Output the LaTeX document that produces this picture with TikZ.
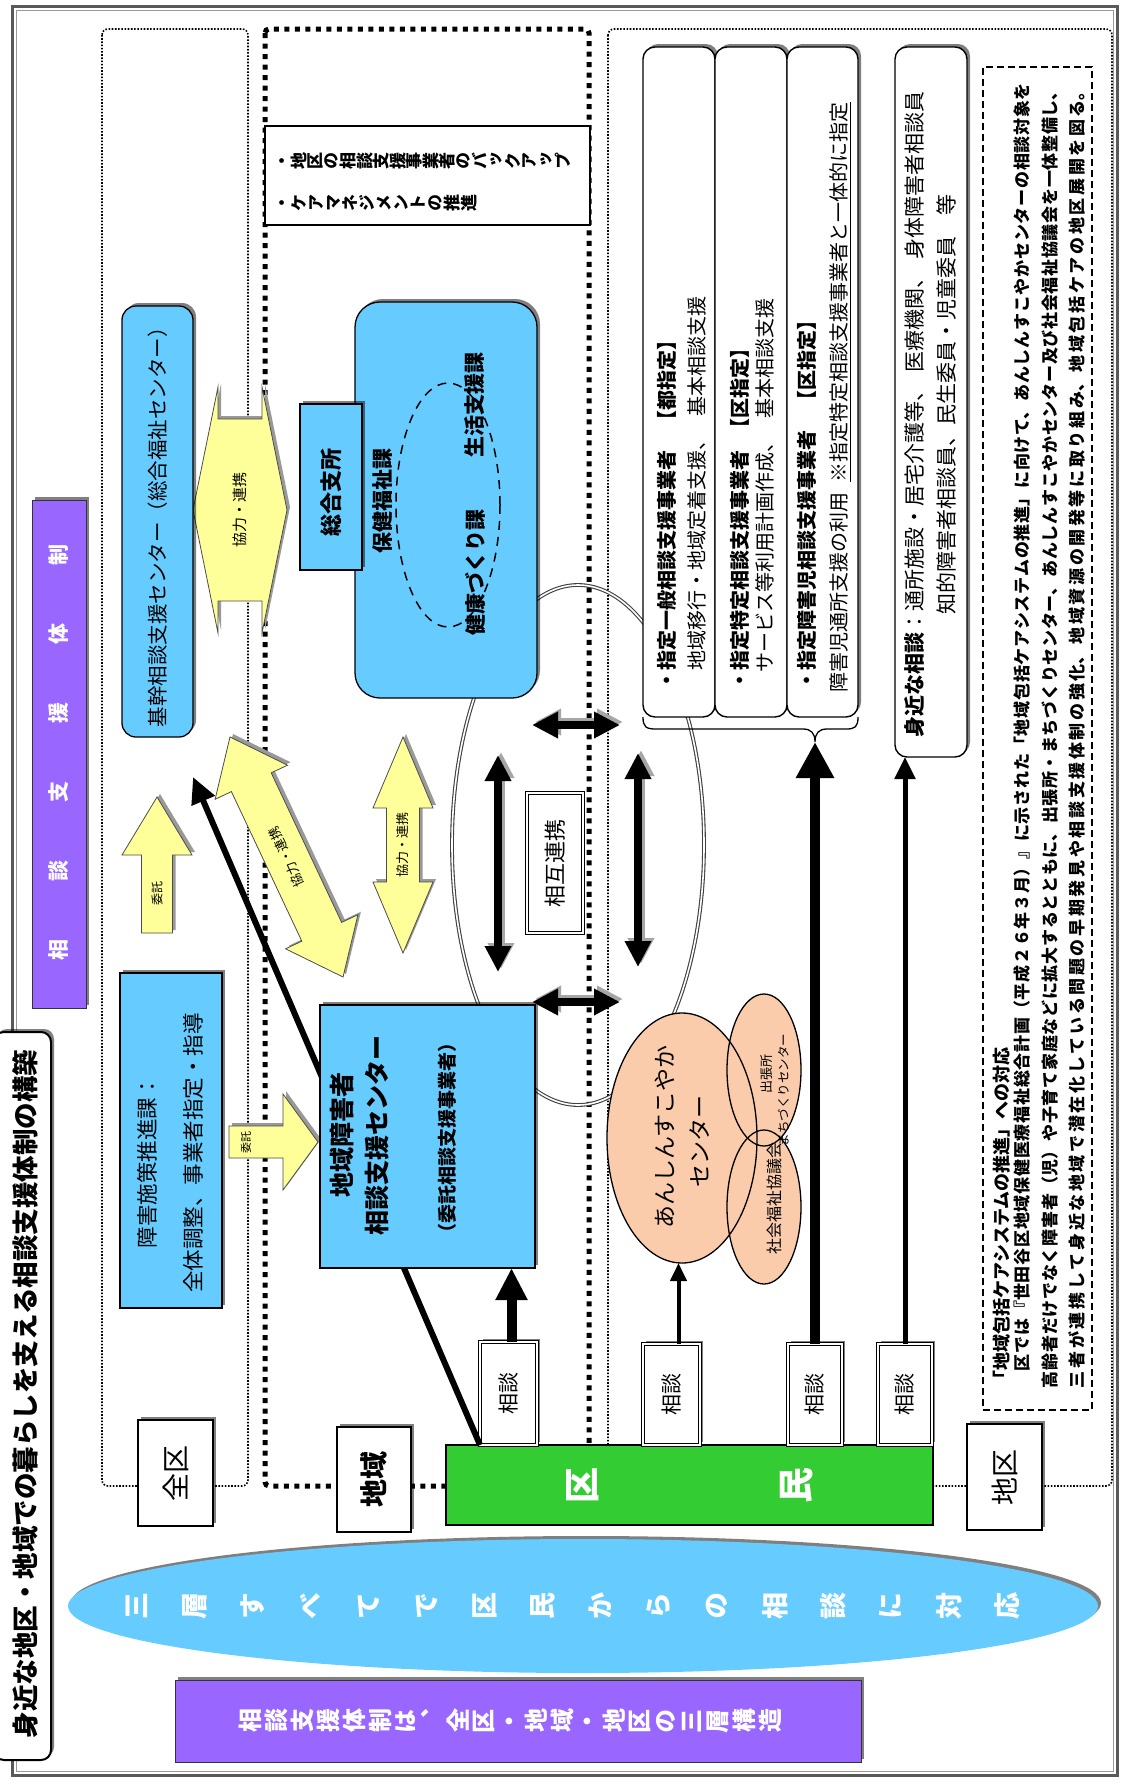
\documentclass[tikz,border=0pt]{standalone}
\usepackage{graphicx}
\usepackage{fontspec}
\setmainfont{Noto Sans CJK JP}
\newfontfamily\vjp{Noto Sans CJK JP}[RawFeature=+vert]
\usetikzlibrary{shapes.geometric,arrows.meta,shadows}
\XeTeXlinebreaklocale "ja"
\XeTeXlinebreakskip=0pt plus 6pt

\definecolor{boxblue}{RGB}{102,204,255}
\definecolor{arryel}{RGB}{255,255,153}
\definecolor{peach}{RGB}{250,204,172}
\definecolor{kugreen}{RGB}{51,204,51}
\definecolor{violet2}{RGB}{153,102,255}
\definecolor{skyband}{RGB}{102,204,255}

\newcommand\fz[2]{\fontsize{#1}{#2}\selectfont}
% vertical (tategaki) text: every character turned a quarter and set on a fixed step
\newlength\vtstep
\makeatletter
\def\vt@end{\vt@end}
\newcommand\vtxt[1]{\vt@loop#1\vt@end}
\def\vt@loop#1{\ifx#1\vt@end\else\vt@char{#1}\expandafter\vt@loop\fi}
\newcommand\vt@char[1]{\makebox[\vtstep]{\rotatebox[origin=c]{90}{\makebox[1em]{\vphantom{国}#1}}}}
\makeatother
% box node from two corners: name, style, x1, y1, x2, y2
\newcommand\pbox[6]{%
  \pgfmathsetmacro\pbw{#5-#3}\pgfmathsetmacro\pbh{#6-#4}%
  \pgfmathsetmacro\pbx{(#3+#5)/2}\pgfmathsetmacro\pby{(#4+#6)/2}%
  \node[#2,minimum width=\pbw pt,minimum height=\pbh pt] (#1) at (\pbx,\pby) {};}
% text turned to read upwards: name, style, x, y, text
\newcommand\rt[5]{\node[rotate=90,#2] (#1) at (#3,#4) {#5};}

% yellow block arrows
\def\hexArrow{(193,510) -- (218,387) -- (218,419) -- (262,419) -- (262,387) -- (287,510) -- (262,633) -- (262,601) -- (218,601) -- (218,633) -- cycle}
\def\vertArrow{(403,737) -- (433,808) -- (419.5,808) -- (419.5,882) -- (433,882) -- (403,953) -- (373,882) -- (386.5,882) -- (386.5,808) -- (373,808) -- cycle}
\def\upArrow{(157,797) -- (192,855) -- (172.5,855) -- (172.5,933) -- (141.5,933) -- (141.5,855) -- (122,855) -- cycle}
\def\rightArrow{(318,1142) -- (283,1094) -- (283,1126) -- (229,1126) -- (229,1158) -- (283,1158) -- (283,1190) -- cycle}
\def\diagArrow{(0,0) -- (50,-40) -- (50,-22) -- (215.3,-22) -- (215.3,-40) -- (265.3,0) -- (215.3,40) -- (215.3,22) -- (50,22) -- (50,40) -- cycle}

\begin{document}
\begin{tikzpicture}[x=1pt,y=-1pt,
  every node/.style={inner sep=0pt,outer sep=0pt},
  sh/.style={drop shadow={shadow xshift=3pt,shadow yshift=3pt,opacity=.5,fill=black}},
  bluebox/.style={fill=boxblue,draw=black,line width=1.3pt,sh},
  wbox/.style={fill=white,draw=black,line width=1.4pt,rounded corners=12pt,sh},
  lblbox/.style={fill=white,draw=black,line width=1.4pt,sh},
  sodanbox/.style={fill=white,draw=black,line width=.7pt,double=white,double distance=2pt,sh},
  thindot/.style={line width=1.6pt,dash pattern=on 1.6pt off 1.6pt},
  thickdot/.style={line width=5pt,dash pattern=on 5pt off 5.5pt},
  yarr/.style={fill=arryel,draw=black!70,line width=.8pt},
  yshade/.style={fill=black!40},
  blk2/.style={line width=8pt,{Triangle[width=25pt,length=26pt]}-{Triangle[width=25pt,length=26pt]}},
  blkshade/.style={draw=black!35,transform canvas={xshift=3pt,yshift=3pt}},
  ring/.style={draw=black!75,line width=1.1pt,double=white,double distance=1.6pt},
  peachline/.style={line width=1.3pt},
  wlabel/.style={text=white,font=\fz{21}{21}\bfseries}
]
\useasboundingbox (0,0) rectangle (1125,1780);
\fill[white] (0,0) rectangle (1125,1780);

% outer frame
\draw[line width=3pt,black!65] (12,6) rectangle (1117,1775);
\draw[line width=.8pt,black!40] (16,10) rectangle (1113,1771);

% the three levels
\draw[thindot,rounded corners=6pt] (102,29) rectangle (248,1486);
\draw[thickdot,rounded corners=4pt] (265,29) rectangle (589,1486);
\draw[thindot,rounded corners=6pt] (608,29) rectangle (1112,1486);

% ring of mutual cooperation
\draw[ring] (578,845) ellipse [x radius=126pt,y radius=260pt];

% consultation boxes standing on the residents bar
\pbox{kumin}{fill=kugreen,draw=black,line width=1.2pt}{446}{1445}{933}{1525}
\pbox{s1}{sodanbox}{480}{1342}{537}{1445}
\pbox{s2}{sodanbox}{643}{1344}{700}{1445}
\pbox{s3}{sodanbox}{788}{1344}{842}{1445}
\pbox{s4}{sodanbox}{878}{1344}{932}{1445}

% line from the residents up to the core centre
\coordinate (kikanIn) at (193,777);
\draw[line width=6pt,-{Triangle[width=24pt,length=26pt]}] (s1.south west) -- (kikanIn);

% yellow arrows
\fill[yshade,shift={(3,-3)}] \hexArrow;   \draw[yarr] \hexArrow;
\fill[yshade,shift={(3,-3)}] \vertArrow;  \draw[yarr] \vertArrow;
\fill[yshade,shift={(3,-3)}] \upArrow;    \draw[yarr] \upArrow;
\fill[yshade,shift={(3,-3)}] \rightArrow; \draw[yarr] \rightArrow;
\begin{scope}[shift={(233,734)},rotate=-64.78]
  \fill[yshade] \diagArrow;
\end{scope}
\begin{scope}[shift={(230,737)},rotate=-64.78]
  \draw[yarr] \diagArrow;
\end{scope}
\rt{yHexT}{font=\fz{15}{15}}{240}{510}{協力・連携}
\rt{yVertT}{font=\fz{13}{13}}{403}{845}{協力・連携}
\rt{yUpT}{font=\fz{12}{12}}{157}{893}{委託}
\rt{yRightT}{font=\fz{11}{11}}{246}{1142}{委託}
\node[rotate=115.2,font=\fz{13}{13}] (yDiagT) at (286.5,857) {協力・連携};

% citywide level
\pbox{kikan}{bluebox,rounded corners=14pt}{122}{306}{193}{737}
\rt{kikanT}{font=\fz{20.5}{20.5}}{158}{522}{基幹相談支援センター（総合福祉センター）}
\pbox{shogai}{bluebox}{120}{973}{222}{1308}
\rt{shogaiT1}{font=\fz{21.5}{21.5}}{147}{1162}{障害施策推進課：}
\rt{shogaiT2}{font=\fz{21.5}{21.5}}{193}{1153}{全体調整、事業者指定・指導}

% area level
\pbox{backup}{fill=white,draw=black,line width=1.5pt}{265}{126}{590}{225}
\node[anchor=west,font=\vjp\fz{17}{17}\bfseries] (bk1) at (274,161) {\setlength\vtstep{16.5pt}\vtxt{・地区の相談支援事業者のバックアップ}};
\node[anchor=west,font=\vjp\fz{17}{17}\bfseries] (bk2) at (274,203) {\setlength\vtstep{17pt}\vtxt{・ケアマネジメントの推進}};

\pbox{hoken}{bluebox,rounded corners=25pt}{355}{302}{537}{698}
\draw[line width=1.5pt,dash pattern=on 9pt off 7pt] (448,505) ellipse [x radius=52pt,y radius=122pt];
\pbox{sogo}{bluebox}{300}{404}{362}{570}
\rt{sogoT}{font=\fz{22}{22}\bfseries}{331}{492}{総合支所}
\rt{hokenT}{font=\fz{21}{21}\bfseries}{383}{501}{保健福祉課}
\rt{seikatsuT}{font=\fz{21}{21}\bfseries}{475}{405}{生活支援課}
\rt{kenkoT}{font=\fz{21}{21}\bfseries}{475}{572}{健康づくり課}

\pbox{chiikiC}{bluebox}{320}{1005}{535}{1268}
\rt{chiikiT1}{font=\fz{25}{25}\bfseries}{342}{1135}{地域障害者}
\rt{chiikiT2}{font=\fz{25}{25}\bfseries}{377}{1135}{相談支援センター}
\rt{chiikiT3}{font=\fz{19}{19}\bfseries}{447}{1138}{（委託相談支援事業者）}

% district level
\pbox{shiA}{wbox}{643}{47}{715}{717}
\pbox{shiB}{wbox}{715}{47}{787}{717}
\pbox{shiC}{wbox}{787}{47}{858}{717}
\rt{tA1}{anchor=west,font=\fz{20}{20}\bfseries}{667}{690}{・指定一般相談支援事業者　【都指定】}
\rt{tA2}{anchor=west,font=\fz{20}{20}}{697}{670}{地域移行・地域定着支援、\hspace{14pt}基本相談支援}
\rt{tB1}{anchor=west,font=\fz{20}{20}\bfseries}{740}{690}{・指定特定相談支援事業者\hspace{12pt}【区指定】}
\rt{tB2}{anchor=west,font=\fz{20}{20}}{765}{672}{サービス等利用計画作成、\hspace{14pt}基本相談支援}
\rt{tC1}{anchor=west,font=\fz{20}{20}\bfseries}{807}{690}{・指定障害児相談支援事業者　【区指定】}
\rt{tC2}{anchor=west,font=\fz{20}{20}}{840}{692}{障害児通所支援の利用\hspace{10pt}\underline{※指定特定相談支援事業者と一体的に指定}}

\coordinate (braceTip) at (815,742);
\draw[line width=1.3pt] (643,717) .. controls (643,727) and (646,729) .. (656,729) -- (803,729)
  .. controls (811,729) and (815,733) .. (815,742) .. controls (815,733) and (819,729) .. (827,729)
  -- (846,729) .. controls (855,729) and (858,727) .. (858,717);

\pbox{mijika}{wbox}{895}{47}{967}{757}
\rt{mj1}{anchor=west,font=\fz{21}{21}}{914}{737}{\textbf{身近な相談}：通所施設・居宅介護等、\hspace{8pt}医療機関、\hspace{8pt}身体障害者相談員}
\rt{mj2}{anchor=west,font=\fz{21}{21}}{947}{614}{知的障害者相談員、民生委員・児童委員\hspace{21pt}等}

\pbox{note}{draw=black,line width=1.2pt,dash pattern=on 7pt off 4pt}{983}{67}{1092}{1410}
\rt{nt1}{anchor=west,font=\fz{18}{18}\bfseries}{1002}{1388}{「地域包括ケアシステムの推進」への対応}
\rt{nt2}{anchor=west,text width=1305pt,align=justify,font=\fz{17}{17}\bfseries}{1022}{1388}{\parindent=0pt\parfillskip=0pt\tolerance=10000\hspace*{17pt}区では『世田谷区地域保健医療福祉総合計画（平成２６年３月）』に示された「地域包括ケアシステムの推進」に向けて、あんしんすこやかセンターの相談対象を\par}
\rt{nt3}{anchor=west,text width=1305pt,align=justify,font=\fz{17}{17}\bfseries}{1050}{1388}{\parindent=0pt\parfillskip=0pt\tolerance=10000 高齢者だけでなく障害者（児）や子育て家庭などに拡大するとともに、出張所・まちづくりセンター、あんしんすこやかセンター及び社会福祉協議会を一体整備し、\par}
\rt{nt4}{anchor=west,text width=1305pt,align=justify,font=\fz{17}{17}\bfseries}{1077}{1388}{\parindent=0pt\parfillskip=0pt\tolerance=10000 三者が連携して身近な地域で潜在化している問題の早期発見や相談支援体制の強化、地域資源の開発等に取り組み、地域包括ケアの地区展開を図る。\par}

% neighbourhood centres
\node[ellipse,fill=peach,minimum width=150pt,minimum height=250pt] (anshin) at (682,1138) {};
\node[ellipse,fill=peach,minimum width=74pt,minimum height=152pt] (dcho) at (764,1070) {};
\node[ellipse,fill=peach,minimum width=74pt,minimum height=154pt] (shakyo) at (764,1207) {};
\draw[peachline] (682,1138) ellipse [x radius=75pt,y radius=125pt];
\draw[peachline] (764,1070) ellipse [x radius=37pt,y radius=76pt];
\draw[peachline] (764,1207) ellipse [x radius=37pt,y radius=77pt];
\rt{anshinT1}{font=\fz{23}{23}}{665}{1137}{あんしんすこやか}
\rt{anshinT2}{font=\fz{23}{23}}{700}{1141}{センター}
\rt{dchoT1}{font=\fz{13}{13}}{767}{1074}{出張所}
\rt{dchoT2}{font=\fz{12.5}{12.5}}{784}{1090}{まちづくりセンター}
\rt{shakyoT}{font=\fz{16}{16}}{774}{1198}{社会福祉協議会}

% mutual cooperation
\pbox{sogo2}{fill=white,draw=black,line width=.8pt,double=white,double distance=1.5pt}{527}{793}{583}{933}
\rt{sogo2T}{font=\fz{22}{22}}{555}{863}{相互連携}
\coordinate (hT1) at (532,725);  \coordinate (hT2) at (620,725);
\coordinate (hB1) at (532,1002); \coordinate (hB2) at (620,1002);
\coordinate (vL1) at (498,755);  \coordinate (vL2) at (498,972);
\coordinate (vR1) at (638,753);  \coordinate (vR2) at (638,967);
\draw[blk2,blkshade] (hT1) -- (hT2); \draw[blk2] (hT1) -- (hT2);
\draw[blk2,blkshade] (hB1) -- (hB2); \draw[blk2] (hB1) -- (hB2);
\draw[blk2,blkshade] (vL1) -- (vL2); \draw[blk2] (vL1) -- (vL2);
\draw[blk2,blkshade] (vR1) -- (vR2); \draw[blk2] (vR1) -- (vR2);

% consultations going up
\draw[line width=10pt,-{Triangle[width=30pt,length=32pt]}] ([xshift=3pt]s1.north) -- ([xshift=3pt]s1.north |- chiikiC.south);
\draw[line width=4pt,-{Triangle[width=16pt,length=18pt]}] ([xshift=7pt]s2.north) -- ([xshift=7pt]s2.north |- anshin.south);
\draw[line width=10pt,-{Triangle[width=36pt,length=36pt]}] (s3.north) -- (braceTip);
\draw[line width=5pt,-{Triangle[width=20pt,length=22pt]}] (s4.north) -- (s4.north |- mijika.south);
\rt{s1T}{font=\fz{21}{21}}{508.5}{1393}{相談}
\rt{s2T}{font=\fz{21}{21}}{671.5}{1394}{相談}
\rt{s3T}{font=\fz{21}{21}}{815}{1394}{相談}
\rt{s4T}{font=\fz{21}{21}}{905}{1394}{相談}
\rt{kuT}{text=white,font=\fz{36}{36}\bfseries}{583}{1485}{区}
\rt{minT}{text=white,font=\fz{36}{36}\bfseries}{797}{1485}{民}

% level labels
\pbox{zenku}{lblbox}{138}{1420}{213}{1526}
\pbox{chiiki}{lblbox}{337}{1427}{411}{1532}
\pbox{chiku}{lblbox}{967}{1424}{1042}{1530}
\rt{zenkuT}{font=\fz{28}{28}}{175.5}{1473}{全区}
\rt{chiikiT}{font=\fz{28}{28}\bfseries}{374}{1479.5}{地域}
\rt{chikuT}{font=\fz{28}{28}}{1004.5}{1477}{地区}

% headings
\pbox{title}{fill=white,draw=black,line width=2pt,rounded corners=10pt,sh}{-6}{1032}{51}{1760}
\rt{titleT}{font=\fz{26.5}{26.5}\bfseries}{25}{1394}{身近な地区・地域での暮らしを支える相談支援体制の構築}
\pbox{pvA}{fill=violet2,draw=black!80,line width=1pt,sh}{32}{500}{86}{1008}
\rt{pvAT}{wlabel}{59}{752}{相\hspace{58pt}談\hspace{58pt}支\hspace{58pt}援\hspace{58pt}体\hspace{58pt}制}
\pbox{pvB}{fill=violet2,draw=black!80,line width=1pt,sh}{175}{1680}{861}{1762}
\node[text=white,font=\vjp\fz{24}{24}\bfseries] (pvBT) at (510,1721) {\setlength\vtstep{26pt}\vtxt{相談支援体制は、全区・地域・地区の三層構造}};
\node[ellipse,fill=skyband,minimum width=1030pt,minimum height=134pt,sh] (band) at (583,1606) {};
\node[text=white,font=\vjp\fz{27}{27}\bfseries] (bandT) at (572,1606) {\setlength\vtstep{58pt}\vtxt{三層すべてで区民からの相談に対応}};
\end{tikzpicture}
\end{document}
